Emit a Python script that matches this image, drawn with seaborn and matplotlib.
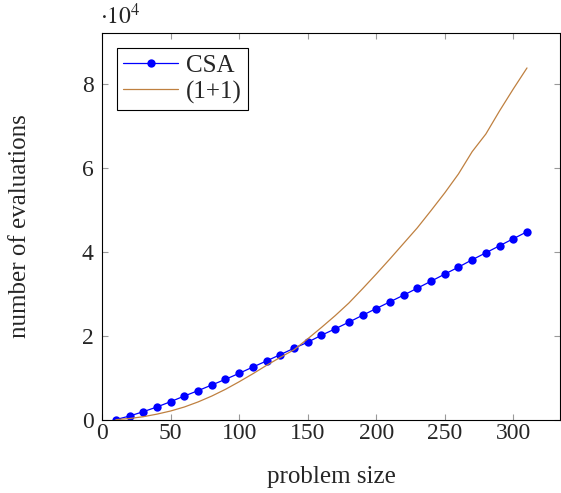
#!/usr/bin/env python3
"""
Line chart: number of evaluations vs problem size for CSA and (1+1).
Saves out.png
"""

import pandas as pd
import matplotlib.pyplot as plt
import seaborn as sns

# problem sizes (shared by both series)
sizes = list(range(10, 320, 10))

# CSA evaluations
csa = [100, 950, 1980, 3100, 4370, 5710, 6980, 8330, 9680, 11100,
       12600, 14050, 15550, 17060, 18500, 20150, 21670, 23260, 24900, 26500,
       28100, 29690, 31350, 33000, 34690, 36350, 38100, 39760, 41430, 43100,
       44760]

# (1+1) evaluations
one_plus_one = [90, 360, 790, 1400, 2150, 3100, 4300, 5700, 7300, 9100,
                11000, 13000, 14900, 16700, 19300, 22000, 24800, 27800, 31200, 34700,
                38300, 42000, 45700, 49800, 54000, 58500, 63800, 68000, 73500, 78700,
                83700]

series_names = ['CSA', '(1+1)']


def create_plot():
    df_csa = pd.DataFrame({'size': sizes, 'evals': csa})
    df_one = pd.DataFrame({'size': sizes, 'evals': one_plus_one})

    sns.set_style('ticks')
    plt.rcParams['font.family'] = ['Liberation Serif', 'DejaVu Serif']
    plt.rcParams['mathtext.fontset'] = 'stix'

    fig = plt.figure(figsize=(5.61, 4.93), dpi=100)
    ax = fig.add_axes([0.182, 0.148, 0.816, 0.785])

    sns.lineplot(data=df_csa, x='size', y='evals', color='#0000ff',
                 marker='o', markersize=6, markeredgewidth=0, linewidth=0.9,
                 label=series_names[0], ax=ax)
    sns.lineplot(data=df_one, x='size', y='evals', color='#bf8040',
                 linewidth=0.9, label=series_names[1], ax=ax)

    ax.set_xlim(0, 334)
    ax.set_ylim(0, 92000)
    ax.set_xticks([0, 50, 100, 150, 200, 250, 300])
    ax.set_yticks([0, 20000, 40000, 60000, 80000])
    ax.set_yticklabels(['0', '2', '4', '6', '8'])

    ax.tick_params(direction='in', length=4, width=0.8, color='#999999',
                   top=True, right=True, labelsize=17)
    ax.tick_params(axis='x', pad=2)
    ax.tick_params(axis='y', pad=6)
    for s in ax.spines.values():
        s.set_linewidth(0.8)
        s.set_color('black')

    ax.set_xlabel('problem size', fontsize=18, labelpad=0)
    ax.set_ylabel('number of evaluations', fontsize=18, labelpad=0)
    ax.yaxis.set_label_coords(-0.155, 0.5)
    ax.xaxis.set_label_coords(0.5, -0.118)
    ax.text(-0.005, 1.01, r'$\cdot10^4$', transform=ax.transAxes,
            fontsize=17, ha='left', va='bottom')

    leg = ax.legend(loc='upper left', fontsize=18, frameon=True, fancybox=False,
                    edgecolor='black', framealpha=1, borderpad=0.25,
                    handlelength=2.2, handletextpad=0.3, labelspacing=0.15,
                    borderaxespad=0.6)
    leg.get_frame().set_linewidth(0.8)

    fig.savefig('out.png', dpi=100)
    plt.close(fig)


if __name__ == '__main__':
    create_plot()
